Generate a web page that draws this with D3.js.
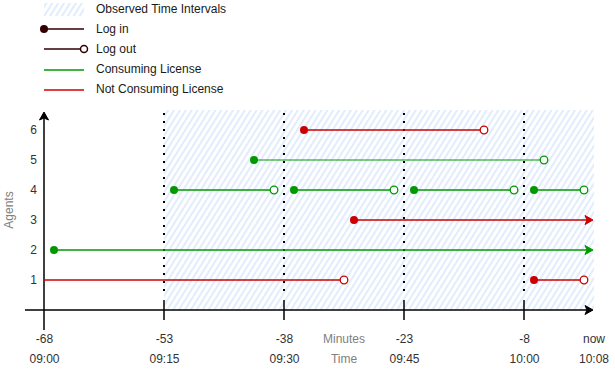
<!DOCTYPE html>
<html>
<head>
<meta charset="utf-8">
<script src="https://cdn.jsdelivr.net/npm/d3@7"></script>
<style>
  body { margin: 0; background: #fff; }
  text { font-family: "Liberation Sans", Arial, Helvetica, sans-serif; font-size: 12px; }
</style>
</head>
<body>
<div id="chart"></div>
<script>
// data
const agents = [1, 2, 3, 4, 5, 6];
const tickMinutes = [-68, -53, -38, -23, -8, 0];
const tickMinuteLabels = ["-68", "-53", "-38", "-23", "-8", "now"];
const tickTimeLabels = ["09:00", "09:15", "09:30", "09:45", "10:00", "10:08"];
const observedFrom = -53;

// sessions: agent, start, end (minutes before now)
const segAgent = [6, 5, 4, 4, 4, 4, 3, 2, 1, 1];
const segStart = [-35.5, -41.75, -51.75, -36.75, -21.75, -6.75, -29.25, -66.75, -68, -6.75];
const segEnd = [-13, -5.5, -39.25, -24.25, -9.25, -0.5, 0, 0, -30.5, -0.5];
const segConsuming = [false, true, true, true, true, true, false, true, false, false];
const segStartKind = ["login", "login", "login", "login", "login", "login", "login", "login", "none", "login"];
const segEndKind = ["logout", "logout", "logout", "logout", "logout", "logout", "arrow", "arrow", "logout", "logout"];
const segFaded = [false, true, false, false, false, false, false, false, false, false];

const legendLabels = ["Observed Time Intervals", "Log in", "Log out", "Consuming License", "Not Consuming License"];

const GREEN = "#009900", RED = "#CC0000", DARK = "#330000";

const svg = d3.select("#chart").append("svg").attr("width", 615).attr("height", 370);

const x = d3.scaleLinear().domain([-68, 0]).range([44, 588]);
const y = d3.scaleLinear().domain([0, 6]).range([310, 130]);

const defs = svg.append("defs");
const pat = defs.append("pattern").attr("id", "hatch").attr("patternUnits", "userSpaceOnUse")
  .attr("width", 5).attr("height", 10).attr("patternTransform", "rotate(32)");
pat.append("line").attr("x1", 1).attr("y1", 0).attr("x2", 1).attr("y2", 10)
  .attr("stroke", "#dae8fc").attr("stroke-width", 1.6);

function arrowHead(g, tipX, tipY, color, dir) {
  let pts;
  if (dir === "right") pts = [[tipX, tipY], [tipX - 8, tipY - 4.5], [tipX - 6, tipY], [tipX - 8, tipY + 4.5]];
  else pts = [[tipX, tipY], [tipX - 4.5, tipY + 8], [tipX, tipY + 6], [tipX + 4.5, tipY + 8]];
  g.append("path").attr("d", d3.line()(pts) + "Z").attr("fill", color).attr("stroke", color).attr("stroke-width", 1);
}

// legend
const legend = svg.append("g");
legendLabels.forEach((t, i) => {
  const ly = 9 + i * 20;
  legend.append("text").attr("x", 96).attr("y", ly).attr("dy", "0.35em").attr("fill", "#1a1a1a").text(t);
});
legend.append("rect").attr("x", 44).attr("y", 3).attr("width", 40).attr("height", 13).attr("fill", "url(#hatch)");
legend.append("line").attr("x1", 44).attr("x2", 84).attr("y1", 29).attr("y2", 29).attr("stroke", DARK).attr("stroke-width", 1.5);
legend.append("circle").attr("cx", 44).attr("cy", 29).attr("r", 4).attr("fill", DARK);
legend.append("line").attr("x1", 44).attr("x2", 84).attr("y1", 49).attr("y2", 49).attr("stroke", DARK).attr("stroke-width", 1.5);
legend.append("circle").attr("cx", 84).attr("cy", 49).attr("r", 3.5).attr("fill", "#fff").attr("stroke", DARK).attr("stroke-width", 1.5);
legend.append("line").attr("x1", 44).attr("x2", 84).attr("y1", 70).attr("y2", 70).attr("stroke", GREEN).attr("stroke-width", 1.5);
legend.append("line").attr("x1", 44).attr("x2", 84).attr("y1", 90).attr("y2", 90).attr("stroke", RED).attr("stroke-width", 1.5);

// observed area
svg.append("rect").attr("x", x(observedFrom)).attr("y", 110)
  .attr("width", x(0) + 6 - x(observedFrom)).attr("height", y(0) - 110).attr("fill", "url(#hatch)");

// dotted separators
svg.selectAll(".sep").data(tickMinutes.slice(1, 5)).enter().append("line")
  .attr("x1", d => x(d)).attr("x2", d => x(d)).attr("y1", 113).attr("y2", 291)
  .attr("stroke", "#000").attr("stroke-width", 2).attr("stroke-dasharray", "2,6");

// axes lines
const axes = svg.append("g");
axes.append("line").attr("x1", 25).attr("x2", x(0) + 2).attr("y1", y(0)).attr("y2", y(0)).attr("stroke", "#000").attr("stroke-width", 1.5);
arrowHead(axes, x(0) + 5, y(0), "#000", "right");
axes.append("line").attr("x1", x(-68)).attr("x2", x(-68)).attr("y1", 330).attr("y2", 118).attr("stroke", "#000").attr("stroke-width", 1.5);
arrowHead(axes, x(-68), 112, "#000", "up");
axes.selectAll(".tk").data(tickMinutes.slice(1, 5)).enter().append("line")
  .attr("x1", d => x(d)).attr("x2", d => x(d)).attr("y1", 300).attr("y2", 320)
  .attr("stroke", "#000").attr("stroke-width", 1.5);

// x labels
const xMin = d3.axisBottom(x).tickValues(tickMinutes).tickSize(0).tickFormat((d, i) => tickMinuteLabels[i]);
const gx1 = svg.append("g").attr("transform", "translate(0,331.5)").call(xMin);
const xTime = d3.axisBottom(x).tickValues(tickMinutes).tickSize(0).tickFormat((d, i) => tickTimeLabels[i]);
const gx2 = svg.append("g").attr("transform", "translate(0,351.5)").call(xTime);
[gx1, gx2].forEach(g => {
  g.select(".domain").remove();
  g.selectAll("text").attr("fill", "#333").style("font-size", "12px").attr("font-family", null);
  g.selectAll(".tick").filter(d => d === 0).attr("transform", `translate(${x(0) + 6},0)`);
});
svg.append("text").attr("x", 344).attr("y", 339).attr("dy", "0.35em").attr("text-anchor", "middle").attr("fill", "#808080").text("Minutes");
svg.append("text").attr("x", 344).attr("y", 359).attr("dy", "0.35em").attr("text-anchor", "middle").attr("fill", "#808080").text("Time");

// y labels
const gy = svg.append("g").attr("transform", "translate(37,0)")
  .call(d3.axisLeft(y).tickValues(agents).tickSize(0).tickPadding(0).tickFormat(d3.format("d")));
gy.select(".domain").remove();
gy.selectAll("text").attr("fill", "#333").style("font-size", "12px").attr("font-family", null);
svg.append("text").attr("transform", "translate(13,210) rotate(-90)").attr("text-anchor", "middle")
  .attr("fill", "#808080").text("Agents");

// sessions
const sg = svg.append("g");
segAgent.forEach((a, i) => {
  const col = segConsuming[i] ? GREEN : RED;
  const cy = y(a);
  const x0 = x(segStart[i]);
  const x1 = segEndKind[i] === "arrow" ? x(segEnd[i]) + 1 : x(segEnd[i]);
  sg.append("line").attr("x1", x0).attr("x2", x1).attr("y1", cy).attr("y2", cy)
    .attr("stroke", col).attr("stroke-width", segFaded[i] ? 2.2 : 1.5)
    .attr("stroke-opacity", segFaded[i] ? 0.5 : 1);
  if (segStartKind[i] === "login")
    sg.append("circle").attr("cx", x0).attr("cy", cy).attr("r", 4).attr("fill", col);
  if (segEndKind[i] === "logout")
    sg.append("circle").attr("cx", x1).attr("cy", cy).attr("r", 3.8).attr("fill", "#fff").attr("stroke", col).attr("stroke-width", 1.3);
  if (segEndKind[i] === "arrow")
    arrowHead(sg, x(segEnd[i]) + 5, cy, col, "right");
});
</script>
</body>
</html>
